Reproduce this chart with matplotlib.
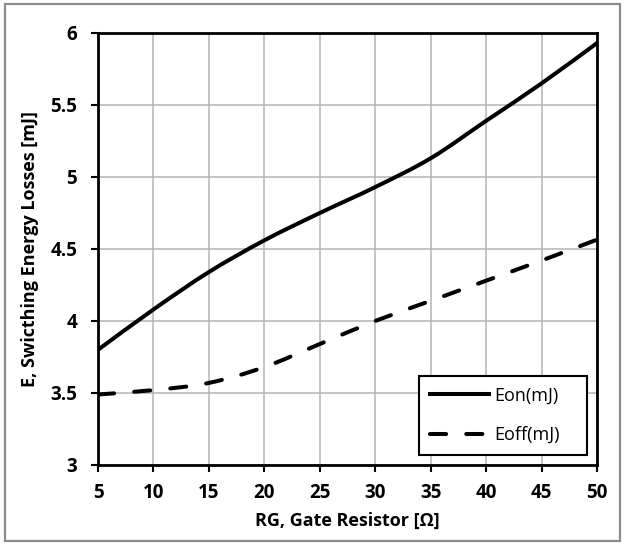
import numpy as np
import matplotlib
matplotlib.use('Agg')
import matplotlib.pyplot as plt
import matplotlib.patches as patches
import matplotlib.lines as lines
from matplotlib.path import Path

plt.rcParams['font.family'] = ['Open Sans', 'DejaVu Sans']

# gate resistance [ohm] and switching energies [mJ]
rg = [5, 10, 15, 20, 25, 30, 35, 40, 45, 50]
eon = [3.80, 4.08, 4.34, 4.56, 4.75, 4.93, 5.13, 5.39, 5.65, 5.93]
eoff = [3.49, 3.52, 3.57, 3.68, 3.84, 4.00, 4.14, 4.28, 4.42, 4.565]
series_names = ['Eon(mJ)', 'Eoff(mJ)']

x_ticks = [5, 10, 15, 20, 25, 30, 35, 40, 45, 50]
y_ticks = [3, 3.5, 4, 4.5, 5, 5.5, 6]


def smooth_path(xs, ys):
    # cubic bezier through every point, like a spreadsheet "smoothed line"
    pts = np.column_stack([xs, ys]).astype(float)
    verts = [pts[0]]
    codes = [Path.MOVETO]
    n = len(pts)
    for i in range(n - 1):
        p0 = pts[i - 1] if i > 0 else pts[i]
        p1 = pts[i]
        p2 = pts[i + 1]
        p3 = pts[i + 2] if i + 2 < n else pts[i + 1]
        c1 = p1 + (p2 - p0) / 6
        c2 = p2 - (p3 - p1) / 6
        verts += [c1, c2, p2]
        codes += [Path.CURVE4] * 3
    return Path(verts, codes)


fig = plt.figure(figsize=(6.24, 5.45), dpi=100)
ax = fig.add_axes([98 / 624, 1 - 465 / 545, 499 / 624, 432 / 545])

lw = 2.9
dash = (0, (4, 5))
ax.add_patch(patches.PathPatch(smooth_path(rg, eon), fill=False, edgecolor='black',
                               lw=lw, capstyle='round', joinstyle='round', zorder=3))
ax.add_patch(patches.PathPatch(smooth_path(rg, eoff), fill=False, edgecolor='black',
                               lw=lw, linestyle=dash, capstyle='round', joinstyle='round', zorder=3))

ax.set_xlim(5, 50)
ax.set_ylim(3, 6)
ax.set_xticks(x_ticks)
ax.set_yticks(y_ticks)
ax.set_xticklabels([str(v) for v in x_ticks])
ax.set_yticklabels([('%g' % v) for v in y_ticks])
ax.grid(True, color='#b4b4b4', lw=1.1)
ax.set_axisbelow(True)
for s in ax.spines.values():
    s.set_linewidth(2)
ax.tick_params(direction='out', length=5, width=1.5, labelsize=13.5, pad=8)
ax.tick_params(axis='y', pad=10)
for lab in ax.get_xticklabels() + ax.get_yticklabels():
    lab.set_fontweight('bold')

ax.set_xlabel('RG, Gate Resistor [Ω]', fontsize=13, fontweight='bold', labelpad=6)
ax.set_ylabel('E, Swicthing Energy Losses [mJ]', fontsize=13, fontweight='bold', labelpad=8)

handles = [lines.Line2D([], [], color='black', lw=lw),
           lines.Line2D([], [], color='black', lw=lw, ls=dash, dash_capstyle='round')]
leg = ax.legend(handles, series_names, loc='lower left', mode='expand',
                bbox_to_anchor=(0.643, 0.023, 0.337, 0.19), borderaxespad=0,
                fontsize=13, handlelength=3.3, handletextpad=0.3, labelspacing=1.2,
                borderpad=0.6, fancybox=False, framealpha=1)
leg.get_frame().set_edgecolor('black')
leg.get_frame().set_linewidth(1.5)

# light frame round the whole figure
fig.patches.append(patches.Rectangle((5 / 624, 4 / 545), 615 / 624, 537 / 545,
                                     transform=fig.transFigure, fill=False,
                                     edgecolor='#8c8c8c', lw=1.6))

fig.savefig('out.png', dpi=100)
